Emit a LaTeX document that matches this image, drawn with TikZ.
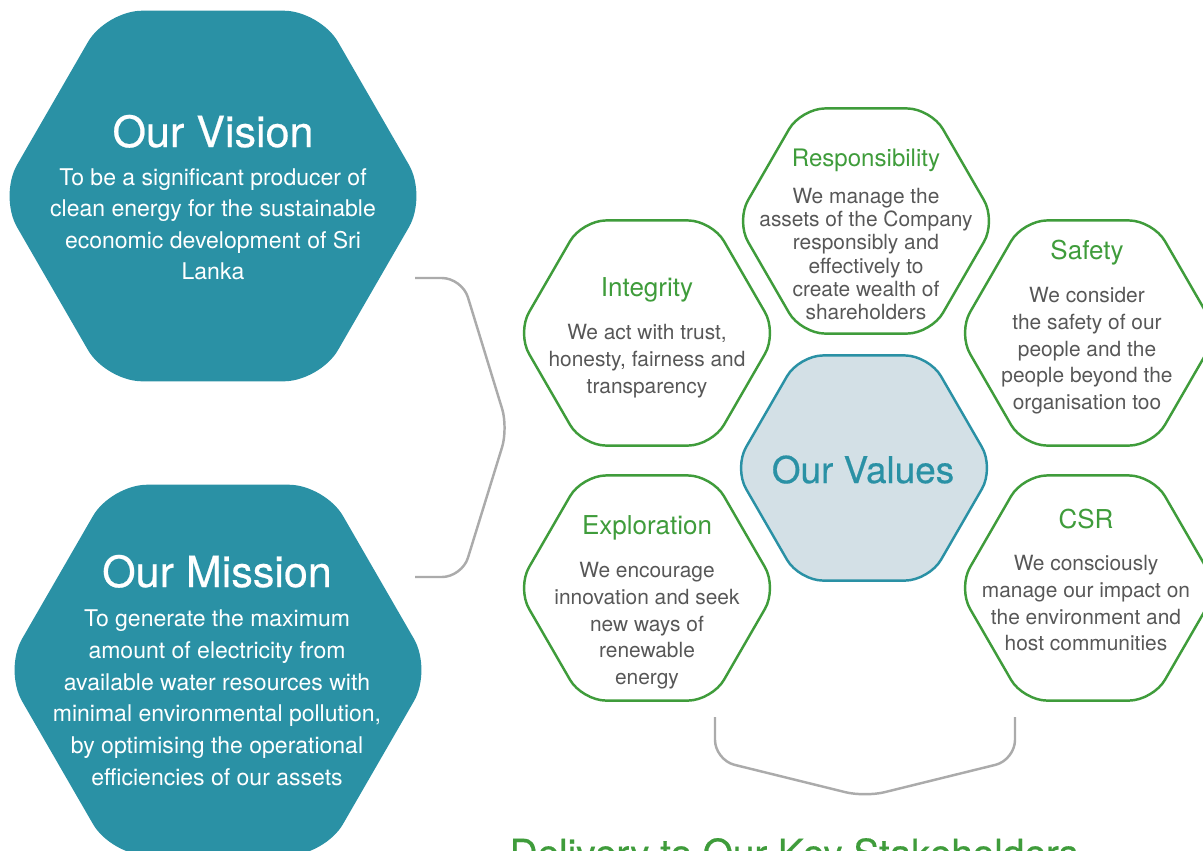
\documentclass[tikz,border=0pt]{standalone}
\usepackage{fontspec}
\setmainfont{TeX Gyre Heros}
\newfontfamily\medfont[FakeBold=0.5]{TeX Gyre Heros}
\usepackage{tikz}
\usetikzlibrary{shapes.geometric,positioning}
\definecolor{hexteal}{HTML}{2A91A5}
\definecolor{leafgreen}{HTML}{3F9C3B}
\definecolor{valuefill}{HTML}{D3E0E6}
\definecolor{txtgray}{HTML}{575757}
\definecolor{bracegray}{HTML}{ABABAB}

\begin{document}
\begin{tikzpicture}[x=0.02cm, y=-0.02cm, thick,
                    bighex/.style={regular polygon, regular polygon sides=6, minimum size=8.56cm, inner sep=0pt, rounded corners=0.72cm, fill=hexteal},
                    smallhex/.style={regular polygon, regular polygon sides=6, minimum size=5.2cm, inner sep=0pt, rounded corners=0.48cm, draw=leafgreen, line width=1.4pt},
                    valhex/.style={smallhex, draw=hexteal, fill=valuefill},
                    bighead/.style={anchor=base, inner sep=0pt, text=white, font=\medfont\fontsize{24.5}{29}\selectfont},
                    bigtxt/.style={align=center, inner sep=0pt, text=white, font=\fontsize{13.1}{18}\selectfont},
                    valhead/.style={anchor=base, inner sep=0pt, text=leafgreen, font=\fontsize{14.8}{18}\selectfont},
                    valtxt/.style={align=center, inner sep=0pt, text=txtgray, font=\fontsize{11.9}{15.1}\selectfont},
                    brace/.style={draw=bracegray, line width=1.4pt, rounded corners=0.4cm}]
        \useasboundingbox (0,0) rectangle (1203,850);

        \node (Vision) [bighex] at (213,196) {};
        \node (VisionHead) [bighead] at (213,147) {Our Vision};
        \node (VisionTxt) [bigtxt, below=0.41cm of VisionHead.base] {To be a significant producer of\\clean energy for the sustainable\\economic development of Sri\\Lanka};

        \node (Mission) [bighex] at (218,670) {};
        \node (MissionHead) [bighead] at (217,587) {Our Mission};
        \node (MissionTxt) [bigtxt, below=0.45cm of MissionHead.base] {To generate the maximum\\amount of electricity from\\available water resources with\\minimal environmental pollution,\\by optimising the operational\\efficiencies of our assets};

        \node (Responsibility) [smallhex] at (866,221) {};
        \node (ResponsibilityHead) [valhead, font=\fontsize{13.7}{16}\selectfont] at (866,166) {Responsibility};
        \node (ResponsibilityTxt) [valtxt, font=\fontsize{11.9}{13.1}\selectfont, below=0.44cm of ResponsibilityHead.base] {We manage the\\assets of the Company\\responsibly and\\effectively to\\create wealth of\\shareholders};

        \node (Integrity) [smallhex] at (647,333) {};
        \node (IntegrityHead) [valhead] at (647,296) {Integrity};
        \node (IntegrityTxt) [valtxt, below=0.56cm of IntegrityHead.base] {We act with trust,\\honesty, fairness and\\transparency};

        \node (Safety) [smallhex] at (1088,333) {};
        \node (SafetyHead) [valhead] at (1087,259) {Safety};
        \node (SafetyTxt) [valtxt, below=0.56cm of SafetyHead.base] {We consider\\the safety of our\\people and the\\people beyond the\\organisation too};

        \node (Values) [valhex] at (864,468) {};
        \node (ValuesHead) [anchor=base, inner sep=0pt, text=hexteal, font=\medfont\fontsize{21}{25}\selectfont] at (863,483) {Our Values};

        \node (Exploration) [smallhex] at (647,588) {};
        \node (ExplorationHead) [valhead] at (647,534) {Exploration};
        \node (ExplorationTxt) [valtxt, below=0.56cm of ExplorationHead.base] {We encourage\\innovation and seek\\new ways of\\renewable\\energy};

        \node (CSR) [smallhex] at (1088,588) {};
        \node (CSRHead) [valhead] at (1086,528) {CSR};
        \node (CSRTxt) [valtxt, below=0.54cm of CSRHead.base] {We consciously\\manage our impact on\\the environment and\\host communities};

        \coordinate (VisionEnd) at (415,278);
        \coordinate (MissionEnd) at (415,577);
        \coordinate (ExplorationEnd) at (715,717);
        \coordinate (CSREnd) at (1015,717);
        \draw[brace] (VisionEnd) -- (462,278) -- (508,428) -- (462,577) -- (MissionEnd);
        \draw[brace] (ExplorationEnd) -- (715,760) -- (865,797) -- (1015,760) -- (CSREnd);

        \node (Delivery) [anchor=base west, inner sep=0pt, text=leafgreen, font=\medfont\fontsize{22}{26}\selectfont] at (509,867) {Delivery to Our Key Stakeholders};
\end{tikzpicture}
\end{document}
